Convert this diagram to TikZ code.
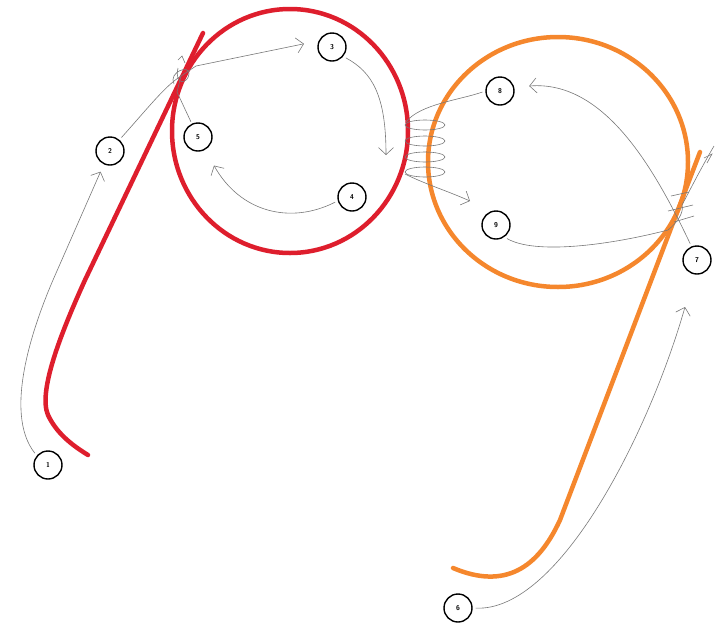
\documentclass[tikz,border=0pt]{standalone}
\usetikzlibrary{arrows.meta, calc}
\definecolor{loopRed}{RGB}{222, 30, 45}
\definecolor{loopOrange}{RGB}{245, 135, 45}
\definecolor{threadGray}{RGB}{120, 120, 120}

\begin{document}
\begin{tikzpicture}[x=1pt, y=-1pt,
          num/.style={draw, circle, line width=1.4pt, minimum size=28pt,
                      inner sep=0pt, fill=white,
                      font=\sffamily\bfseries\fontsize{7}{7}\selectfont},
          wire/.style={line width=4.5pt, line cap=round},
          thread/.style={draw=threadGray, line width=0.6pt},
          arr/.style={thread, -{Straight Barb[length=7pt, width=15pt]}}]
        \useasboundingbox (0,0) rectangle (716,630);

        % the two hooks
        \draw[wire, loopRed] (290,131) ellipse [x radius=118, y radius=122];
        \draw[wire, loopRed] (203,33) -- (85,280)
              .. controls (60,335) and (38,392) .. (48,415)
              .. controls (56,432) and (70,444) .. (88,455);
        \draw[wire, loopOrange] (558,162) ellipse [x radius=130, y radius=125];
        \draw[wire, loopOrange] (700,152) -- (560,520)
              .. controls (538,568) and (505,590) .. (453,568);

        % steps
        \node[num] (n1) at (48,465)  {1};
        \node[num] (n2) at (110,151) {2};
        \node[num] (n3) at (332,47)  {3};
        \node[num] (n4) at (352,197) {4};
        \node[num] (n5) at (198,137) {5};
        \node[num] (n6) at (458,608) {6};
        \node[num] (n7) at (697,260) {7};
        \node[num] (n8) at (500,91)  {8};
        \node[num] (n9) at (496,225) {9};

        \coordinate (knotA) at (181,76);
        \coordinate (knotB) at (682,205);
        \coordinate (tip3)  at (386,155);
        \coordinate (tip9)  at (470,201);
        \coordinate (tip6)  at (685,307);

        % thread
        \draw[arr, shorten <=3pt, shorten >=8pt] (n1.140)
              .. controls (2,412) and (35,322) .. (53,280) -- (n2.245);
        \draw[thread, shorten <=3pt] (n2.50)
              .. controls (148,108) and (165,86) .. (knotA);
        \draw[arr, shorten >=15pt] (knotA) -- (196,66) -- (n3.155);
        \draw[thread, shorten <=2pt] (n5.115) -- (177,92) -- (knotA);
        \draw[thread] (174,84) .. controls (168,72) and (190,64) .. (189,74)
              .. controls (188,84) and (174,86) .. (178,68)
              (178,60) -- (182,56) -- (185,63);
        \draw[arr, shorten <=3pt] (n3.-40)
              .. controls (372,72) and (386,95) .. (tip3);
        \draw[arr, shorten <=3pt, shorten >=18pt] (n4.195)
              .. controls (290,225) and (240,212) .. (n5);
        \draw[thread, shorten <=3pt] (n8.west)
              .. controls (460,100) and (420,104) .. (406,122);
        \draw[thread] (425,125) ellipse [x radius=20, y radius=5]
              (425,141) ellipse [x radius=20, y radius=5]
              (425,157) ellipse [x radius=20, y radius=5]
              (425,172) ellipse [x radius=20, y radius=5];
        \draw[arr] (405,174) .. controls (425,184) and (445,190) .. (tip9);
        \draw[thread, shorten <=3pt] (n9.-55)
              .. controls (535,255) and (610,245) .. (668,230)
              .. controls (678,222) and (684,212) .. (knotB)
              .. controls (690,190) and (700,170) .. (714,146);
        \draw[thread] (671,196) -- (689,192) (668,211) -- (693,205)
              (674,222) -- (694,216) (704,158) -- (712,154) -- (707,163);
        \draw[arr, shorten <=3pt] (n6.east)
              .. controls (560,612) and (650,430) .. (tip6);
        \draw[arr, shorten <=3pt, shorten >=15pt] (n7.112)
              .. controls (655,170) and (605,80) .. (n8.15);
\end{tikzpicture}
\end{document}
